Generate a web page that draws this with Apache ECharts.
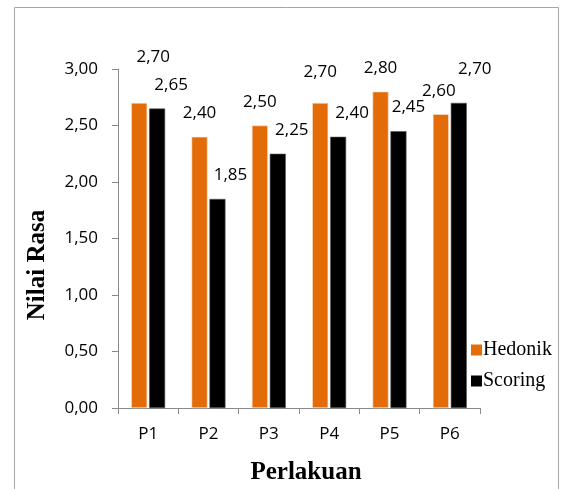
<!DOCTYPE html>
<html>
<head>
<meta charset="utf-8">
<script src="https://cdn.jsdelivr.net/npm/echarts@6/dist/echarts.min.js"></script>
<style>
  html, body { margin: 0; padding: 0; background: #fff; }
  #chart { width: 562px; height: 489px; }
</style>
</head>
<body>
<div id="chart"></div>
<script>
// Treatments and the two taste-score series
const categories = ['P1', 'P2', 'P3', 'P4', 'P5', 'P6'];
const hedonik = [2.70, 2.40, 2.50, 2.70, 2.80, 2.60];
const scoring = [2.65, 1.85, 2.25, 2.40, 2.45, 2.70];
const yTicks = [0, 0.5, 1, 1.5, 2, 2.5, 3];

// Label nudges (pixels) so the value labels sit clear of neighbouring bars
const hedonikLabelShift = [[14, -22], [0, 0], [0, 0], [0, -7], [0, 0], [-2, 0]];
const scoringLabelShift = [[14, 0], [13, 0], [14, 0], [14, 0], [10, 0], [16, -10]];

const fmt = v => v.toFixed(2).replace('.', ',');
const sans = 'Open Sans, Noto Sans, sans-serif';
const serif = 'Liberation Serif, serif';
const labelFont = { fontFamily: sans, fontSize: 17, color: '#000' };

function items(values, shifts) {
  return values.map((v, i) => ({
    value: v,
    label: { offset: shifts[i] }
  }));
}

const chart = echarts.init(document.getElementById('chart'), null, { renderer: 'canvas' });
chart.setOption({
  animation: false,
  backgroundColor: '#fff',
  graphic: [
    {
      type: 'rect',
      shape: { x: 14.5, y: 7.5, width: 544, height: 500 },
      style: { fill: 'none', stroke: '#a6a6a6', lineWidth: 1 },
      silent: true
    },
    {
      // y-axis title
      type: 'text',
      x: 38, y: 265,
      rotation: Math.PI / 2,
      style: {
        text: 'Nilai Rasa', fontFamily: serif, fontWeight: 'bold', fontSize: 25,
        fill: '#000', align: 'center', verticalAlign: 'middle'
      },
      silent: true
    },
    {
      // x-axis title
      type: 'text',
      x: 306, y: 473,
      style: {
        text: 'Perlakuan', fontFamily: serif, fontWeight: 'bold', fontSize: 25,
        fill: '#000', align: 'center', verticalAlign: 'middle'
      },
      silent: true
    }
  ],
  grid: { left: 118, right: 82, top: 69, bottom: 81 },
  legend: {
    orient: 'vertical',
    left: 466,
    top: 335,
    itemWidth: 11,
    itemHeight: 11,
    itemGap: 11,
    icon: 'rect',
    itemStyle: { borderWidth: 0 },
    textStyle: { fontFamily: serif, fontSize: 20, color: '#000', padding: [0, 0, 0, -4] },
    data: ['Hedonik', 'Scoring']
  },
  xAxis: {
    type: 'category',
    data: categories,
    axisLine: { lineStyle: { color: '#898989', width: 1 } },
    axisTick: { show: true, length: 6, alignWithLabel: false, lineStyle: { color: '#898989' } },
    axisLabel: { margin: 18, fontFamily: sans, fontSize: 17, color: '#000' }
  },
  yAxis: {
    type: 'value',
    min: yTicks[0],
    max: yTicks[yTicks.length - 1],
    interval: 0.5,
    splitLine: { show: false },
    axisLine: { show: true, lineStyle: { color: '#898989', width: 1 } },
    axisTick: { show: true, length: 6, lineStyle: { color: '#898989' } },
    axisLabel: {
      margin: 20,
      formatter: fmt,
      fontFamily: sans, fontSize: 17, color: '#000'
    }
  },
  series: [
    {
      name: 'Hedonik',
      type: 'bar',
      barWidth: 16,
      barGap: '12%',
      data: items(hedonik, hedonikLabelShift),
      itemStyle: { color: '#e36c09', borderColor: '#fbe3d0', borderWidth: 0.6 },
      label: { show: true, position: 'top', distance: 15, formatter: p => fmt(p.value), ...labelFont }
    },
    {
      name: 'Scoring',
      type: 'bar',
      barWidth: 16,
      data: items(scoring, scoringLabelShift),
      itemStyle: { color: '#000000', borderColor: '#555', borderWidth: 0.6 },
      label: { show: true, position: 'top', distance: 15, formatter: p => fmt(p.value), ...labelFont }
    }
  ]
});
</script>
</body>
</html>
